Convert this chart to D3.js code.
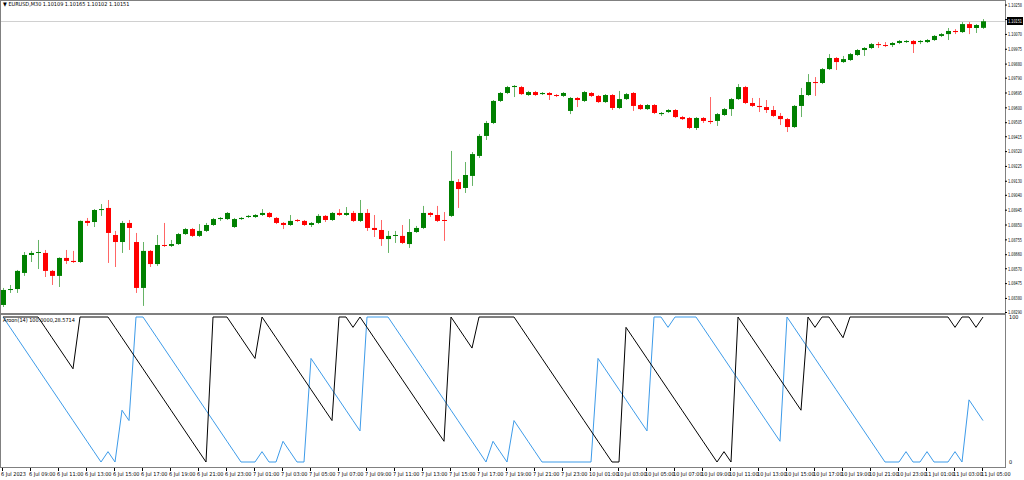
<!DOCTYPE html>
<html>
<head>
<meta charset="utf-8">
<script src="https://cdn.jsdelivr.net/npm/d3@7"></script>
<style>
  body { margin: 0; background: #fff; }
  text { font-family: "Liberation Sans Narrow", "DejaVu Sans Condensed", sans-serif; font-size: 5.5px; fill: #000; }
</style>
</head>
<body>
<div id="chart"></div>
<script>
// EURUSD M30 candles, prices
const opens = [1.08335,1.08431,1.08437,1.08540,1.08655,1.08668,1.08668,1.08553,1.08521,1.08636,1.08617,1.08610,1.08873,1.08866,1.08943,1.08956,1.08783,1.08738,1.08860,1.08738,
  1.08444,1.08681,1.08597,1.08719,1.08713,1.08725,1.08789,1.08821,1.08777,1.08809,1.08847,1.08885,1.08885,1.08834,1.08885,1.08898,1.08898,1.08911,1.08924,1.08892,
  1.08860,1.08847,1.08879,1.08873,1.08847,1.08860,1.08905,1.08879,1.08924,1.08911,1.08924,1.08873,1.08924,1.08828,1.08815,1.08757,1.08777,1.08777,1.08725,1.08802,
  1.08828,1.08924,1.08911,1.08879,1.08905,1.09122,1.09084,1.09161,1.09289,1.09417,1.09500,1.09641,1.09692,1.09730,1.09730,1.09679,1.09698,1.09685,1.09692,1.09679,
  1.09673,1.09577,1.09660,1.09641,1.09692,1.09673,1.09634,1.09679,1.09596,1.09653,1.09692,1.09615,1.09589,1.09615,1.09557,1.09570,1.09583,1.09538,1.09532,1.09468,
  1.09532,1.09513,1.09513,1.09551,1.09589,1.09653,1.09730,1.09628,1.09609,1.09602,1.09583,1.09545,1.09525,1.09474,1.09609,1.09679,1.09762,1.09756,1.09845,1.09916,
  1.09890,1.09903,1.09935,1.09967,1.09980,1.10005,1.09999,1.09999,1.10012,1.10018,1.10025,1.10018,1.10018,1.10031,1.10057,1.10069,1.10089,1.10082,1.10133,1.10108,
  1.10109];
const closes = [1.08431,1.08437,1.08553,1.08655,1.08668,1.08674,1.08553,1.08521,1.08636,1.08617,1.08610,1.08873,1.08860,1.08943,1.08949,1.08796,1.08738,1.08860,1.08828,1.08444,
  1.08681,1.08597,1.08719,1.08713,1.08725,1.08789,1.08821,1.08777,1.08809,1.08847,1.08885,1.08892,1.08924,1.08885,1.08892,1.08905,1.08911,1.08924,1.08898,1.08860,
  1.08847,1.08873,1.08873,1.08847,1.08860,1.08905,1.08879,1.08924,1.08911,1.08924,1.08873,1.08924,1.08828,1.08815,1.08757,1.08777,1.08783,1.08732,1.08802,1.08828,
  1.08924,1.08911,1.08873,1.08873,1.09129,1.09077,1.09167,1.09301,1.09417,1.09500,1.09641,1.09692,1.09730,1.09737,1.09685,1.09698,1.09679,1.09692,1.09679,1.09673,
  1.09692,1.09660,1.09647,1.09698,1.09673,1.09634,1.09679,1.09596,1.09653,1.09685,1.09609,1.09589,1.09615,1.09564,1.09564,1.09583,1.09538,1.09525,1.09468,1.09532,
  1.09513,1.09506,1.09557,1.09589,1.09653,1.09730,1.09628,1.09609,1.09602,1.09583,1.09545,1.09525,1.09474,1.09609,1.09679,1.09762,1.09756,1.09845,1.09916,1.09890,
  1.09909,1.09941,1.09967,1.09980,1.10005,1.09999,1.09993,1.10012,1.10025,1.10025,1.10005,1.10025,1.10031,1.10057,1.10069,1.10089,1.10082,1.10133,1.10108,1.10127,
  1.10151];
const highs = [1.08444,1.08463,1.08559,1.08674,1.08681,1.08751,1.08687,1.08559,1.08640,1.08687,1.08681,1.08876,1.08892,1.08949,1.08981,1.09007,1.08809,1.08873,1.08879,1.08796,
  1.08738,1.08687,1.08783,1.08860,1.08751,1.08796,1.08828,1.08828,1.08853,1.08860,1.08892,1.08898,1.08930,1.08892,1.08898,1.08911,1.08917,1.08949,1.08930,1.08898,
  1.08866,1.08911,1.08885,1.08879,1.08866,1.08917,1.08911,1.08930,1.08949,1.08962,1.08937,1.09007,1.08949,1.08911,1.08879,1.08809,1.08809,1.08847,1.08885,1.08841,
  1.08969,1.08930,1.08969,1.08930,1.09321,1.09141,1.09250,1.09314,1.09429,1.09513,1.09647,1.09698,1.09737,1.09743,1.09737,1.09705,1.09705,1.09698,1.09698,1.09685,
  1.09698,1.09666,1.09666,1.09705,1.09698,1.09679,1.09685,1.09685,1.09705,1.09692,1.09698,1.09621,1.09621,1.09621,1.09570,1.09589,1.09589,1.09545,1.09538,1.09538,
  1.09538,1.09666,1.09564,1.09596,1.09660,1.09749,1.09737,1.09660,1.09660,1.09647,1.09609,1.09564,1.09532,1.09615,1.09724,1.09813,1.09794,1.09852,1.09941,1.09922,
  1.09929,1.09948,1.09973,1.09986,1.10012,1.10018,1.10018,1.10018,1.10031,1.10031,1.10031,1.10031,1.10037,1.10063,1.10076,1.10108,1.10101,1.10146,1.10146,1.10133,
  1.10165];
const lows = [1.08322,1.08412,1.08412,1.08521,1.08610,1.08565,1.08514,1.08463,1.08450,1.08597,1.08604,1.08604,1.08841,1.08834,1.08905,1.08604,1.08578,1.08668,1.08687,1.08412,
  1.08329,1.08578,1.08585,1.08706,1.08706,1.08719,1.08783,1.08770,1.08770,1.08802,1.08841,1.08873,1.08879,1.08828,1.08879,1.08892,1.08892,1.08905,1.08892,1.08853,
  1.08821,1.08841,1.08866,1.08841,1.08834,1.08853,1.08866,1.08873,1.08905,1.08905,1.08866,1.08866,1.08809,1.08770,1.08713,1.08668,1.08732,1.08725,1.08700,1.08796,
  1.08821,1.08898,1.08866,1.08745,1.08898,1.08956,1.09052,1.09097,1.09276,1.09391,1.09493,1.09634,1.09685,1.09666,1.09679,1.09673,1.09673,1.09679,1.09647,1.09666,
  1.09666,1.09557,1.09602,1.09634,1.09666,1.09628,1.09628,1.09583,1.09589,1.09647,1.09577,1.09583,1.09583,1.09557,1.09545,1.09564,1.09532,1.09519,1.09461,1.09455,
  1.09500,1.09493,1.09481,1.09545,1.09545,1.09647,1.09621,1.09602,1.09570,1.09564,1.09538,1.09487,1.09442,1.09468,1.09538,1.09673,1.09673,1.09749,1.09839,1.09839,
  1.09884,1.09897,1.09929,1.09929,1.09973,1.09980,1.09986,1.09986,1.10005,1.10012,1.09948,1.10005,1.10012,1.10025,1.10050,1.10031,1.10069,1.10076,1.10069,1.10076,
  1.10102];

const priceTicks = [1.10258,1.10165,1.10070,1.09975,1.09880,1.09790,1.09695,1.09600,1.09505,1.09415,1.09320,
  1.09225,1.09130,1.09040,1.08945,1.08850,1.08755,1.08660,1.08570,1.08475,1.08380,1.08290];
const timeLabels = ["6 Jul 2023","6 Jul 09:00","6 Jul 11:00","6 Jul 13:00","6 Jul 15:00","6 Jul 17:00","6 Jul 19:00","6 Jul 21:00","6 Jul 23:00",
  "7 Jul 01:00","7 Jul 03:00","7 Jul 05:00","7 Jul 07:00","7 Jul 09:00","7 Jul 11:00","7 Jul 13:00","7 Jul 15:00","7 Jul 17:00","7 Jul 19:00","7 Jul 21:00","7 Jul 23:00",
  "10 Jul 01:00","10 Jul 03:00","10 Jul 05:00","10 Jul 07:00","10 Jul 09:00","10 Jul 11:00","10 Jul 13:00","10 Jul 15:00","10 Jul 17:00","10 Jul 19:00","10 Jul 21:00","10 Jul 23:00",
  "11 Jul 01:00","11 Jul 03:00","11 Jul 05:00"];
const labelStep = 4; // bars between time labels
const aroonPeriod = 14;

const width = 1024, height = 480;
const axisX = 1005;

const svg = d3.select("#chart").append("svg")
  .attr("width", width).attr("height", height);

const n = closes.length;
const x = d3.scaleLinear().domain([0, n - 1]).range([3, 983]);
const y = d3.scaleLinear().domain([1.08290, 1.10268]).range([312, 3]);

// aroon from the candles' highs and lows
const aroonUp = [], aroonDown = [];
for (let i = 0; i < n; i++) {
  let hi = i, lo = i;
  for (let j = i; j >= Math.max(0, i - aroonPeriod); j--) {
    if (highs[j] > highs[hi]) hi = j;
    if (lows[j] < lows[lo]) lo = j;
  }
  aroonUp.push(100 * (aroonPeriod - (i - hi)) / aroonPeriod);
  aroonDown.push(100 * (aroonPeriod - (i - lo)) / aroonPeriod);
}
const yA = d3.scaleLinear().domain([0, 100]).range([462, 317]);

// frames
const frame = "#808080";
svg.append("line").attr("x1", 0.5).attr("x2", 0.5).attr("y1", 0).attr("y2", 468).attr("stroke", frame);
svg.append("line").attr("x1", axisX + 0.5).attr("x2", axisX + 0.5).attr("y1", 0).attr("y2", 468).attr("stroke", frame);
svg.append("line").attr("x1", 0).attr("x2", axisX).attr("y1", 0.5).attr("y2", 0.5).attr("stroke", frame);
svg.append("rect").attr("x", 0).attr("y", 313).attr("width", axisX).attr("height", 2).attr("fill", frame);
svg.append("line").attr("x1", 0).attr("x2", axisX).attr("y1", 467.5).attr("y2", 467.5).attr("stroke", frame);

// last price line
const last = closes[n - 1];
svg.append("line").attr("x1", 1).attr("x2", axisX).attr("y1", Math.round(y(last)) + 0.5).attr("y2", Math.round(y(last)) + 0.5)
  .attr("stroke", "#d0d0d0");

// candles
const bars = svg.append("g").selectAll("g").data(d3.range(n)).join("g");
const col = i => closes[i] >= opens[i] ? "#008000" : "#ff0000";
bars.append("line")
  .attr("x1", i => Math.round(x(i)) + 0.5).attr("x2", i => Math.round(x(i)) + 0.5)
  .attr("y1", i => y(highs[i])).attr("y2", i => y(lows[i]))
  .attr("stroke", col).attr("stroke-opacity", 0.6);
bars.append("rect")
  .attr("x", i => Math.round(x(i)) - 2).attr("width", 5)
  .attr("y", i => y(Math.max(opens[i], closes[i])))
  .attr("height", i => Math.max(1, Math.abs(y(opens[i]) - y(closes[i]))))
  .attr("fill", col);

// price axis
const yAxis = d3.axisRight(y).tickValues(priceTicks).tickFormat(d3.format(".5f")).tickSize(2);
svg.append("g").attr("transform", `translate(${axisX},0)`).call(yAxis)
  .call(g => g.select(".domain").remove())
  .call(g => g.selectAll("line").attr("stroke", "#000"))
  .call(g => g.selectAll("text").attr("x", 3).attr("font-size", null).attr("font-family", null)
    .attr("textLength", 14).attr("lengthAdjust", "spacingAndGlyphs"));

// last price box
const ly = Math.round(y(last));
svg.append("rect").attr("x", axisX + 2).attr("y", ly - 4).attr("width", 16).attr("height", 8).attr("fill", "#000");
svg.append("text").attr("x", axisX + 3).attr("y", ly + 2).style("fill", "#fff")
  .attr("textLength", 14).attr("lengthAdjust", "spacingAndGlyphs").text(d3.format(".5f")(last));

// title
svg.append("text").attr("x", 3).attr("y", 6).text("\u25BC EURUSD,M30  " +
  [opens[n - 1], highs[n - 1], lows[n - 1], closes[n - 1]].map(d3.format(".5f")).join(" "));

// aroon lines
const line = arr => d3.line().x((d, i) => x(i)).y(d => yA(d))(arr);
svg.append("path").attr("d", line(aroonDown)).attr("fill", "none").attr("stroke", "#3d9be9").attr("stroke-width", 1);
svg.append("path").attr("d", line(aroonUp)).attr("fill", "none").attr("stroke", "#000").attr("stroke-width", 1);

svg.append("text").attr("x", 3).attr("y", 322)
  .text(`Aroon(14) ${d3.format(".4f")(aroonUp[n - 1])},${d3.format(".4f")(aroonDown[n - 1])}`);
svg.append("text").attr("x", axisX + 4).attr("y", yA(100) + 2).text("100");
svg.append("text").attr("x", axisX + 4).attr("y", yA(0) + 2).text("0");

// time axis
const tickBars = timeLabels.map((t, k) => k * labelStep);
const tg = svg.append("g");
tg.selectAll("line").data(tickBars).join("line")
  .attr("x1", i => Math.round(x(i)) - 0.5).attr("x2", i => Math.round(x(i)) - 0.5)
  .attr("y1", 468).attr("y2", 471).attr("stroke", "#000");
tg.selectAll("text").data(tickBars).join("text")
  .attr("x", i => Math.round(x(i)) - 2).attr("y", 476)
  .attr("textLength", t => 0).attr("textLength", null)
  .text((i, k) => timeLabels[k]);
</script>
</body>
</html>
